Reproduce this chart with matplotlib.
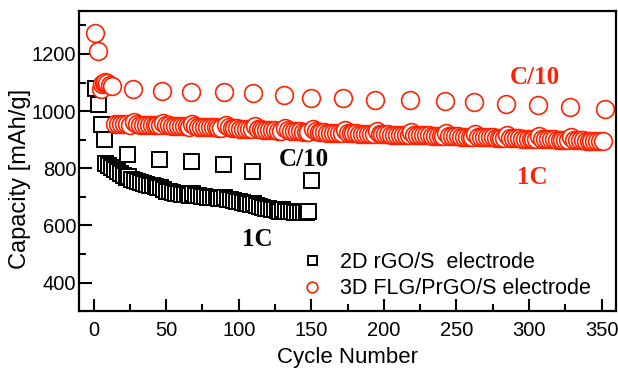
import numpy as np
import matplotlib
matplotlib.use("Agg")
import matplotlib.pyplot as plt
from matplotlib.ticker import MultipleLocator

# 2D rGO/S electrode - C/10 cycles
rgo_c10_cycle = [1, 3, 5, 7, 23, 45, 67, 89, 109, 150]
rgo_c10_cap = [1080, 1025, 955, 902, 850, 833, 826, 815, 792, 758]

# 2D rGO/S electrode - 1C cycles (every 2nd cycle)
rgo_1c_cycle = list(range(8, 150, 2))
rgo_1c_cap = [818, 812, 805, 798, 790, 783, 776, 770,
              772, 764, 758, 754, 751, 748, 745, 742, 740, 737, 734,
              733, 726, 721, 719, 717, 715, 713, 711, 710, 709, 707,
              712, 708, 706, 704, 702, 701, 700, 699, 698, 697, 695,
              698, 694, 691, 689, 686, 684, 682, 680, 678, 676,
              678, 672, 668, 665, 662, 660, 658, 656, 654, 652,
              656, 652, 650, 649, 648, 648, 647, 647, 648, 652]

# 3D FLG/PrGO/S electrode - C/10 cycles
flg_c10_cycle = [1, 3, 5, 6, 7, 8, 9, 11, 13,
                 27, 47, 67, 90, 110, 131, 150, 172, 194, 218, 242, 262,
                 284, 306, 328, 352]
flg_c10_cap = [1275, 1212, 1078, 1095, 1100, 1102, 1098, 1093, 1087,
               1077, 1070, 1068, 1068, 1063, 1056, 1046, 1046, 1038, 1038,
               1035, 1032, 1025, 1021, 1014, 1007]

# 3D FLG/PrGO/S electrode - 1C cycles (every 2nd cycle, between the C/10 cycles)
flg_1c_cycle = (list(range(15, 27, 2)) + list(range(28, 47, 2)) + list(range(48, 67, 2))
                + list(range(68, 90, 2)) + list(range(91, 110, 2)) + list(range(111, 131, 2))
                + list(range(132, 150, 2)) + list(range(151, 172, 2)) + list(range(173, 194, 2))
                + list(range(195, 218, 2)) + list(range(219, 242, 2)) + list(range(243, 262, 2))
                + list(range(263, 284, 2)) + list(range(285, 306, 2)) + list(range(307, 328, 2))
                + list(range(329, 352, 2)))
flg_1c_cap = [956, 955, 955, 954, 954, 953,
              962, 954, 953, 953, 952, 952, 951, 951, 950, 950,
              960, 951, 950, 949, 949, 948, 948, 947, 947, 946,
              956, 948, 946, 945, 945, 944, 944, 943, 943, 942, 942,
              952, 943, 941, 940, 940, 939, 939, 938, 938, 937,
              947, 938, 936, 935, 935, 934, 933, 933, 932, 932,
              942, 933, 931, 930, 929, 929, 928, 928, 927,
              938, 929, 927, 926, 926, 925, 925, 924, 924, 923, 923,
              934, 925, 923, 922, 922, 921, 921, 920, 920, 919, 919,
              930, 921, 920, 919, 919, 918, 918, 917, 917, 916, 916, 915,
              927, 918, 917, 916, 916, 915, 915, 914, 914, 913, 913, 912,
              923, 914, 913, 912, 912, 911, 911, 910, 910, 909,
              920, 911, 910, 909, 909, 908, 908, 907, 907, 906, 906,
              916, 907, 906, 905, 905, 904, 904, 903, 903, 902, 902,
              912, 904, 903, 902, 901, 901, 900, 900, 899, 899, 898,
              908, 900, 899, 898, 898, 897, 897, 896, 896, 895, 895, 895]

red = '#ff2200'


def merge(c1, v1, c2, v2):
    # put both rates in one series, in cycle order
    c = np.array(c1 + c2)
    v = np.array(v1 + v2)
    order = np.argsort(c, kind='stable')
    return c[order], v[order]


rgo_x, rgo_y = merge(rgo_c10_cycle, rgo_c10_cap, rgo_1c_cycle, rgo_1c_cap)
flg_x, flg_y = merge(flg_c10_cycle, flg_c10_cap, flg_1c_cycle, flg_1c_cap)

plt.rcParams['font.family'] = ['Liberation Sans', 'DejaVu Sans']

fig = plt.figure(figsize=(6.18, 3.70), dpi=100)
ax = fig.add_axes([0.128, 0.159, 0.869, 0.811])

ax.plot(rgo_x, rgo_y, linestyle='none', marker='s', markersize=10.8,
        markerfacecolor='white', markeredgecolor='black', markeredgewidth=1.4,
        label='2D rGO/S  electrode')
ax.plot(flg_x, flg_y, linestyle='none', marker='o', markersize=12.8,
        markerfacecolor='white', markeredgecolor=red, markeredgewidth=1.2,
        label='3D FLG/PrGO/S electrode')

ax.set_xlim(-10, 360)
ax.set_ylim(300, 1350)
ax.xaxis.set_major_locator(MultipleLocator(50))
ax.xaxis.set_minor_locator(MultipleLocator(25))
ax.yaxis.set_major_locator(MultipleLocator(200))
ax.yaxis.set_minor_locator(MultipleLocator(100))
ax.set_yticks([400, 600, 800, 1000, 1200])
ax.tick_params(which='both', direction='in', top=False, right=False, width=1.5)
ax.tick_params(which='major', length=9, labelsize=14.5)
ax.tick_params(axis='x', which='major', pad=7)
ax.tick_params(axis='y', which='major', pad=2)
ax.tick_params(which='minor', length=5)
for s in ax.spines.values():
    s.set_linewidth(1.6)

ax.set_xlabel('Cycle Number', fontsize=16, labelpad=5)
ax.set_ylabel('Capacity [mAh/g]', fontsize=17)
ax.yaxis.set_label_coords(-0.09, 0.44)

serif = ['Liberation Serif', 'DejaVu Serif']
ax.text(304, 1116, 'C/10', color=red, fontsize=18, fontweight='bold', family=serif,
        ha='center', va='center')
ax.text(302, 768, '1C', color=red, fontsize=18, fontweight='bold', family=serif,
        ha='center', va='center')
ax.text(145, 832, 'C/10', color='black', fontsize=18, fontweight='bold', family=serif,
        ha='center', va='center')
ax.text(113, 551, '1C', color='black', fontsize=18, fontweight='bold', family=serif,
        ha='center', va='center')

ax.legend(loc='lower left', bbox_to_anchor=(0.41, 0.04), frameon=False, fontsize=15.5,
          markerscale=0.6, handlelength=1.2, handletextpad=0.7, labelspacing=0.25,
          borderaxespad=0, borderpad=0)

fig.savefig('out.png', dpi=100)
